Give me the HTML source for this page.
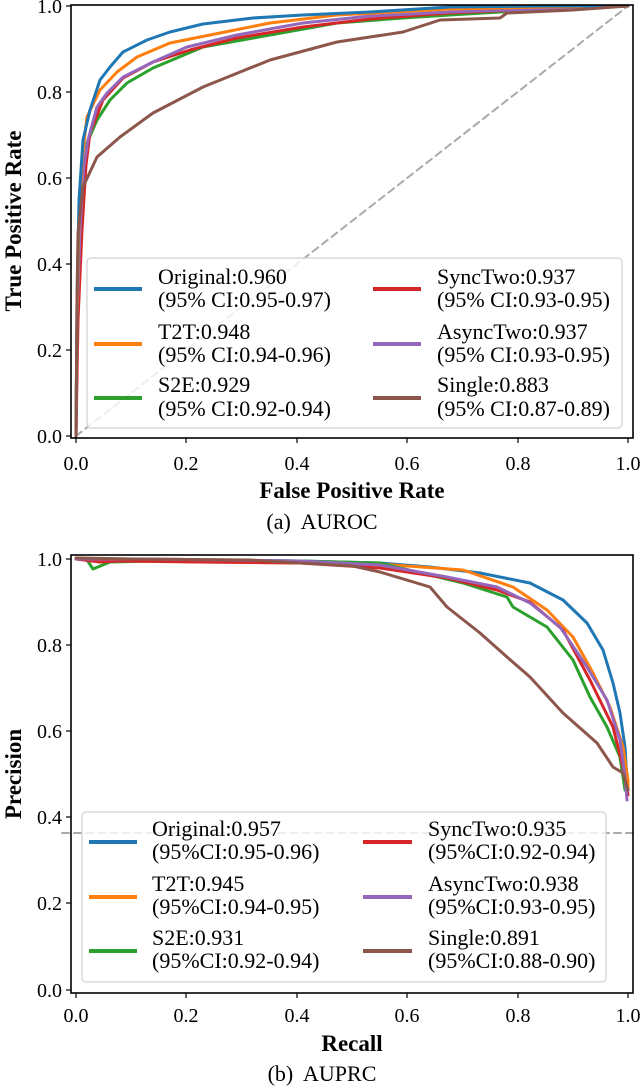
<!DOCTYPE html>
<html><head><meta charset="utf-8"><style>
html,body{margin:0;padding:0;background:#fff;}
svg{display:block;}
text{font-family:'Liberation Serif','DejaVu Serif',serif;}
</style></head><body>
<svg width="640" height="1089" viewBox="0 0 640 1089" xmlns="http://www.w3.org/2000/svg" font-family="Liberation Serif, DejaVu Serif, serif">
<g fill="none" stroke-width="3" stroke-linejoin="round" stroke-linecap="round">
<line x1="76" y1="436" x2="628" y2="6" stroke="#aaaaaa" stroke-width="2" stroke-dasharray="7,5"/>
<polyline stroke="#2ca02c" points="76,436 77,330 80,250 84,170 87,143 97,120 110,100 127,83 153,68 203,47 270,35 337,23 403,18 450,15 500,12 560,9 628,6"/>
<polyline stroke="#d62728" points="76,436 78,320 82,230 86,165 90,133 103,100 123,78 153,62 190,50 237,38 303,27 370,19 450,13 540,9 628,6"/>
<polyline stroke="#9467bd" points="76,436 77,320 80,230 84,165 88,140 97,107 107,93 123,77 153,62 187,47 237,35 303,23 370,16 450,12 540,9 628,6"/>
<polyline stroke="#ff7f0e" points="76,436 77,320 79,220 82,160 87,117 100,90 117,72 137,57 170,43 220,33 270,23 337,15 450,9 540,7 628,6"/>
<polyline stroke="#1f77b4" points="76,436 77,300 79,200 83,140 90,110 100,80 110,67 123,52 147,40 170,32 203,24 253,18 303,15 370,12 450,7 540,6 628,6"/>
<polyline stroke="#8c564b" points="76,436 77,300 78,233 83,187 97,157 120,137 153,113 203,87 270,60 337,42 403,32 440,20 500,18 507,13 573,10 628,6"/>
<line x1="62" y1="833" x2="633" y2="833" stroke="#aaaaaa" stroke-width="2" stroke-dasharray="7,5"/>
<polyline stroke="#1f77b4" points="76,559 200,560 300,561 380,563 430,567 480,573 530,583 563,600 587,623 603,650 613,683 620,713 625,747 627,780 628,790"/>
<polyline stroke="#ff7f0e" points="76,559 200,562 300,563 380,564 463,570 513,587 547,610 573,637 593,673 610,707 623,747 628,780 628,788"/>
<polyline stroke="#2ca02c" points="76,559 87,560 93,569 110,562 200,560 300,561 380,563 463,583 507,597 513,607 547,627 573,660 590,697 607,727 620,757 625,790"/>
<polyline stroke="#d62728" points="76,559 100,562 120,561 200,562 300,563 380,568 447,578 497,590 530,602 563,630 590,680 613,727 623,767 628,795"/>
<polyline stroke="#9467bd" points="76,559 150,559 300,561 380,565 447,577 497,587 530,603 560,627 587,667 607,700 620,740 625,777 627,800"/>
<polyline stroke="#8c564b" points="76,558 133,559 250,560 353,566 380,572 430,587 447,607 480,633 507,657 530,677 563,713 597,743 613,767 623,773 628,790"/>
</g>
<g fill="none" stroke="#000" stroke-width="1.6">
<rect x="71" y="5" width="562" height="433"/>
<rect x="71" y="555" width="562" height="438"/>
</g>
<g stroke="#000" stroke-width="1.2">
<line x1="76" y1="438" x2="76" y2="443"/><line x1="186" y1="438" x2="186" y2="443"/><line x1="297" y1="438" x2="297" y2="443"/><line x1="407" y1="438" x2="407" y2="443"/><line x1="518" y1="438" x2="518" y2="443"/><line x1="628" y1="438" x2="628" y2="443"/>
<line x1="66" y1="6" x2="71" y2="6"/><line x1="66" y1="92" x2="71" y2="92"/><line x1="66" y1="178" x2="71" y2="178"/><line x1="66" y1="264" x2="71" y2="264"/><line x1="66" y1="350" x2="71" y2="350"/><line x1="66" y1="436" x2="71" y2="436"/>
<line x1="76" y1="993" x2="76" y2="998"/><line x1="186" y1="993" x2="186" y2="998"/><line x1="297" y1="993" x2="297" y2="998"/><line x1="407" y1="993" x2="407" y2="998"/><line x1="518" y1="993" x2="518" y2="998"/><line x1="628" y1="993" x2="628" y2="998"/>
<line x1="66" y1="559" x2="71" y2="559"/><line x1="66" y1="645" x2="71" y2="645"/><line x1="66" y1="731" x2="71" y2="731"/><line x1="66" y1="817" x2="71" y2="817"/><line x1="66" y1="903" x2="71" y2="903"/><line x1="66" y1="990" x2="71" y2="990"/>
</g>
<g font-size="20" fill="#000">
<g text-anchor="middle">
<text x="76" y="470">0.0</text><text x="186" y="470">0.2</text><text x="297" y="470">0.4</text><text x="407" y="470">0.6</text><text x="518" y="470">0.8</text><text x="628" y="470">1.0</text>
<text x="76" y="1022">0.0</text><text x="186" y="1022">0.2</text><text x="297" y="1022">0.4</text><text x="407" y="1022">0.6</text><text x="518" y="1022">0.8</text><text x="628" y="1022">1.0</text>
</g>
<g text-anchor="end">
<text x="62" y="13">1.0</text><text x="62" y="99">0.8</text><text x="62" y="185">0.6</text><text x="62" y="271">0.4</text><text x="62" y="357">0.2</text><text x="62" y="443">0.0</text>
<text x="62" y="566">1.0</text><text x="62" y="652">0.8</text><text x="62" y="738">0.6</text><text x="62" y="824">0.4</text><text x="62" y="910">0.2</text><text x="62" y="997">0.0</text>
</g>
</g>
<g font-size="23" font-weight="bold" fill="#000" text-anchor="middle">
<text x="352" y="498">False Positive Rate</text>
<text x="352" y="1051">Recall</text>
<text transform="translate(21,221) rotate(-90)">True Positive Rate</text>
<text transform="translate(21,774) rotate(-90)">Precision</text>
</g>
<g font-size="22" fill="#000" text-anchor="middle">
<text x="322" y="529" xml:space="preserve">(a)  AUROC</text>
<text x="322" y="1081" xml:space="preserve">(b)  AUPRC</text>
</g>
<rect x="87" y="258" width="535" height="170" rx="4" fill="#fff" fill-opacity="0.8" stroke="#d0d0d0" stroke-width="1.2"/>
<g stroke-width="4">
<line x1="94" y1="289" x2="142" y2="289" stroke="#1f77b4"/>
<line x1="94" y1="344" x2="142" y2="344" stroke="#ff7f0e"/>
<line x1="94" y1="398" x2="142" y2="398" stroke="#2ca02c"/>
<line x1="373" y1="289" x2="421" y2="289" stroke="#d62728"/>
<line x1="373" y1="344" x2="421" y2="344" stroke="#9467bd"/>
<line x1="373" y1="398" x2="421" y2="398" stroke="#8c564b"/>
</g>
<g font-size="22" fill="#000">
<text x="158" y="284">Original:0.960</text><text x="158" y="307">(95% CI:0.95-0.97)</text>
<text x="158" y="339">T2T:0.948</text><text x="158" y="362">(95% CI:0.94-0.96)</text>
<text x="158" y="392">S2E:0.929</text><text x="158" y="416">(95% CI:0.92-0.94)</text>
<text x="437" y="284">SyncTwo:0.937</text><text x="437" y="307">(95% CI:0.93-0.95)</text>
<text x="437" y="339">AsyncTwo:0.937</text><text x="437" y="362">(95% CI:0.93-0.95)</text>
<text x="437" y="392">Single:0.883</text><text x="437" y="416">(95% CI:0.87-0.89)</text>
</g>
<rect x="82" y="812" width="524" height="170" rx="4" fill="#fff" fill-opacity="0.8" stroke="#d0d0d0" stroke-width="1.2"/>
<g stroke-width="4">
<line x1="89" y1="842" x2="137" y2="842" stroke="#1f77b4"/>
<line x1="89" y1="897" x2="137" y2="897" stroke="#ff7f0e"/>
<line x1="89" y1="951" x2="137" y2="951" stroke="#2ca02c"/>
<line x1="363" y1="842" x2="412" y2="842" stroke="#d62728"/>
<line x1="363" y1="897" x2="412" y2="897" stroke="#9467bd"/>
<line x1="363" y1="951" x2="412" y2="951" stroke="#8c564b"/>
</g>
<g font-size="22" fill="#000">
<text x="152" y="836">Original:0.957</text><text x="152" y="859">(95%CI:0.95-0.96)</text>
<text x="152" y="891">T2T:0.945</text><text x="152" y="914">(95%CI:0.94-0.95)</text>
<text x="152" y="945">S2E:0.931</text><text x="152" y="968">(95%CI:0.92-0.94)</text>
<text x="428" y="836">SyncTwo:0.935</text><text x="428" y="859">(95%CI:0.92-0.94)</text>
<text x="428" y="891">AsyncTwo:0.938</text><text x="428" y="914">(95%CI:0.93-0.95)</text>
<text x="428" y="945">Single:0.891</text><text x="428" y="968">(95%CI:0.88-0.90)</text>
</g>
</svg>
</body></html>
